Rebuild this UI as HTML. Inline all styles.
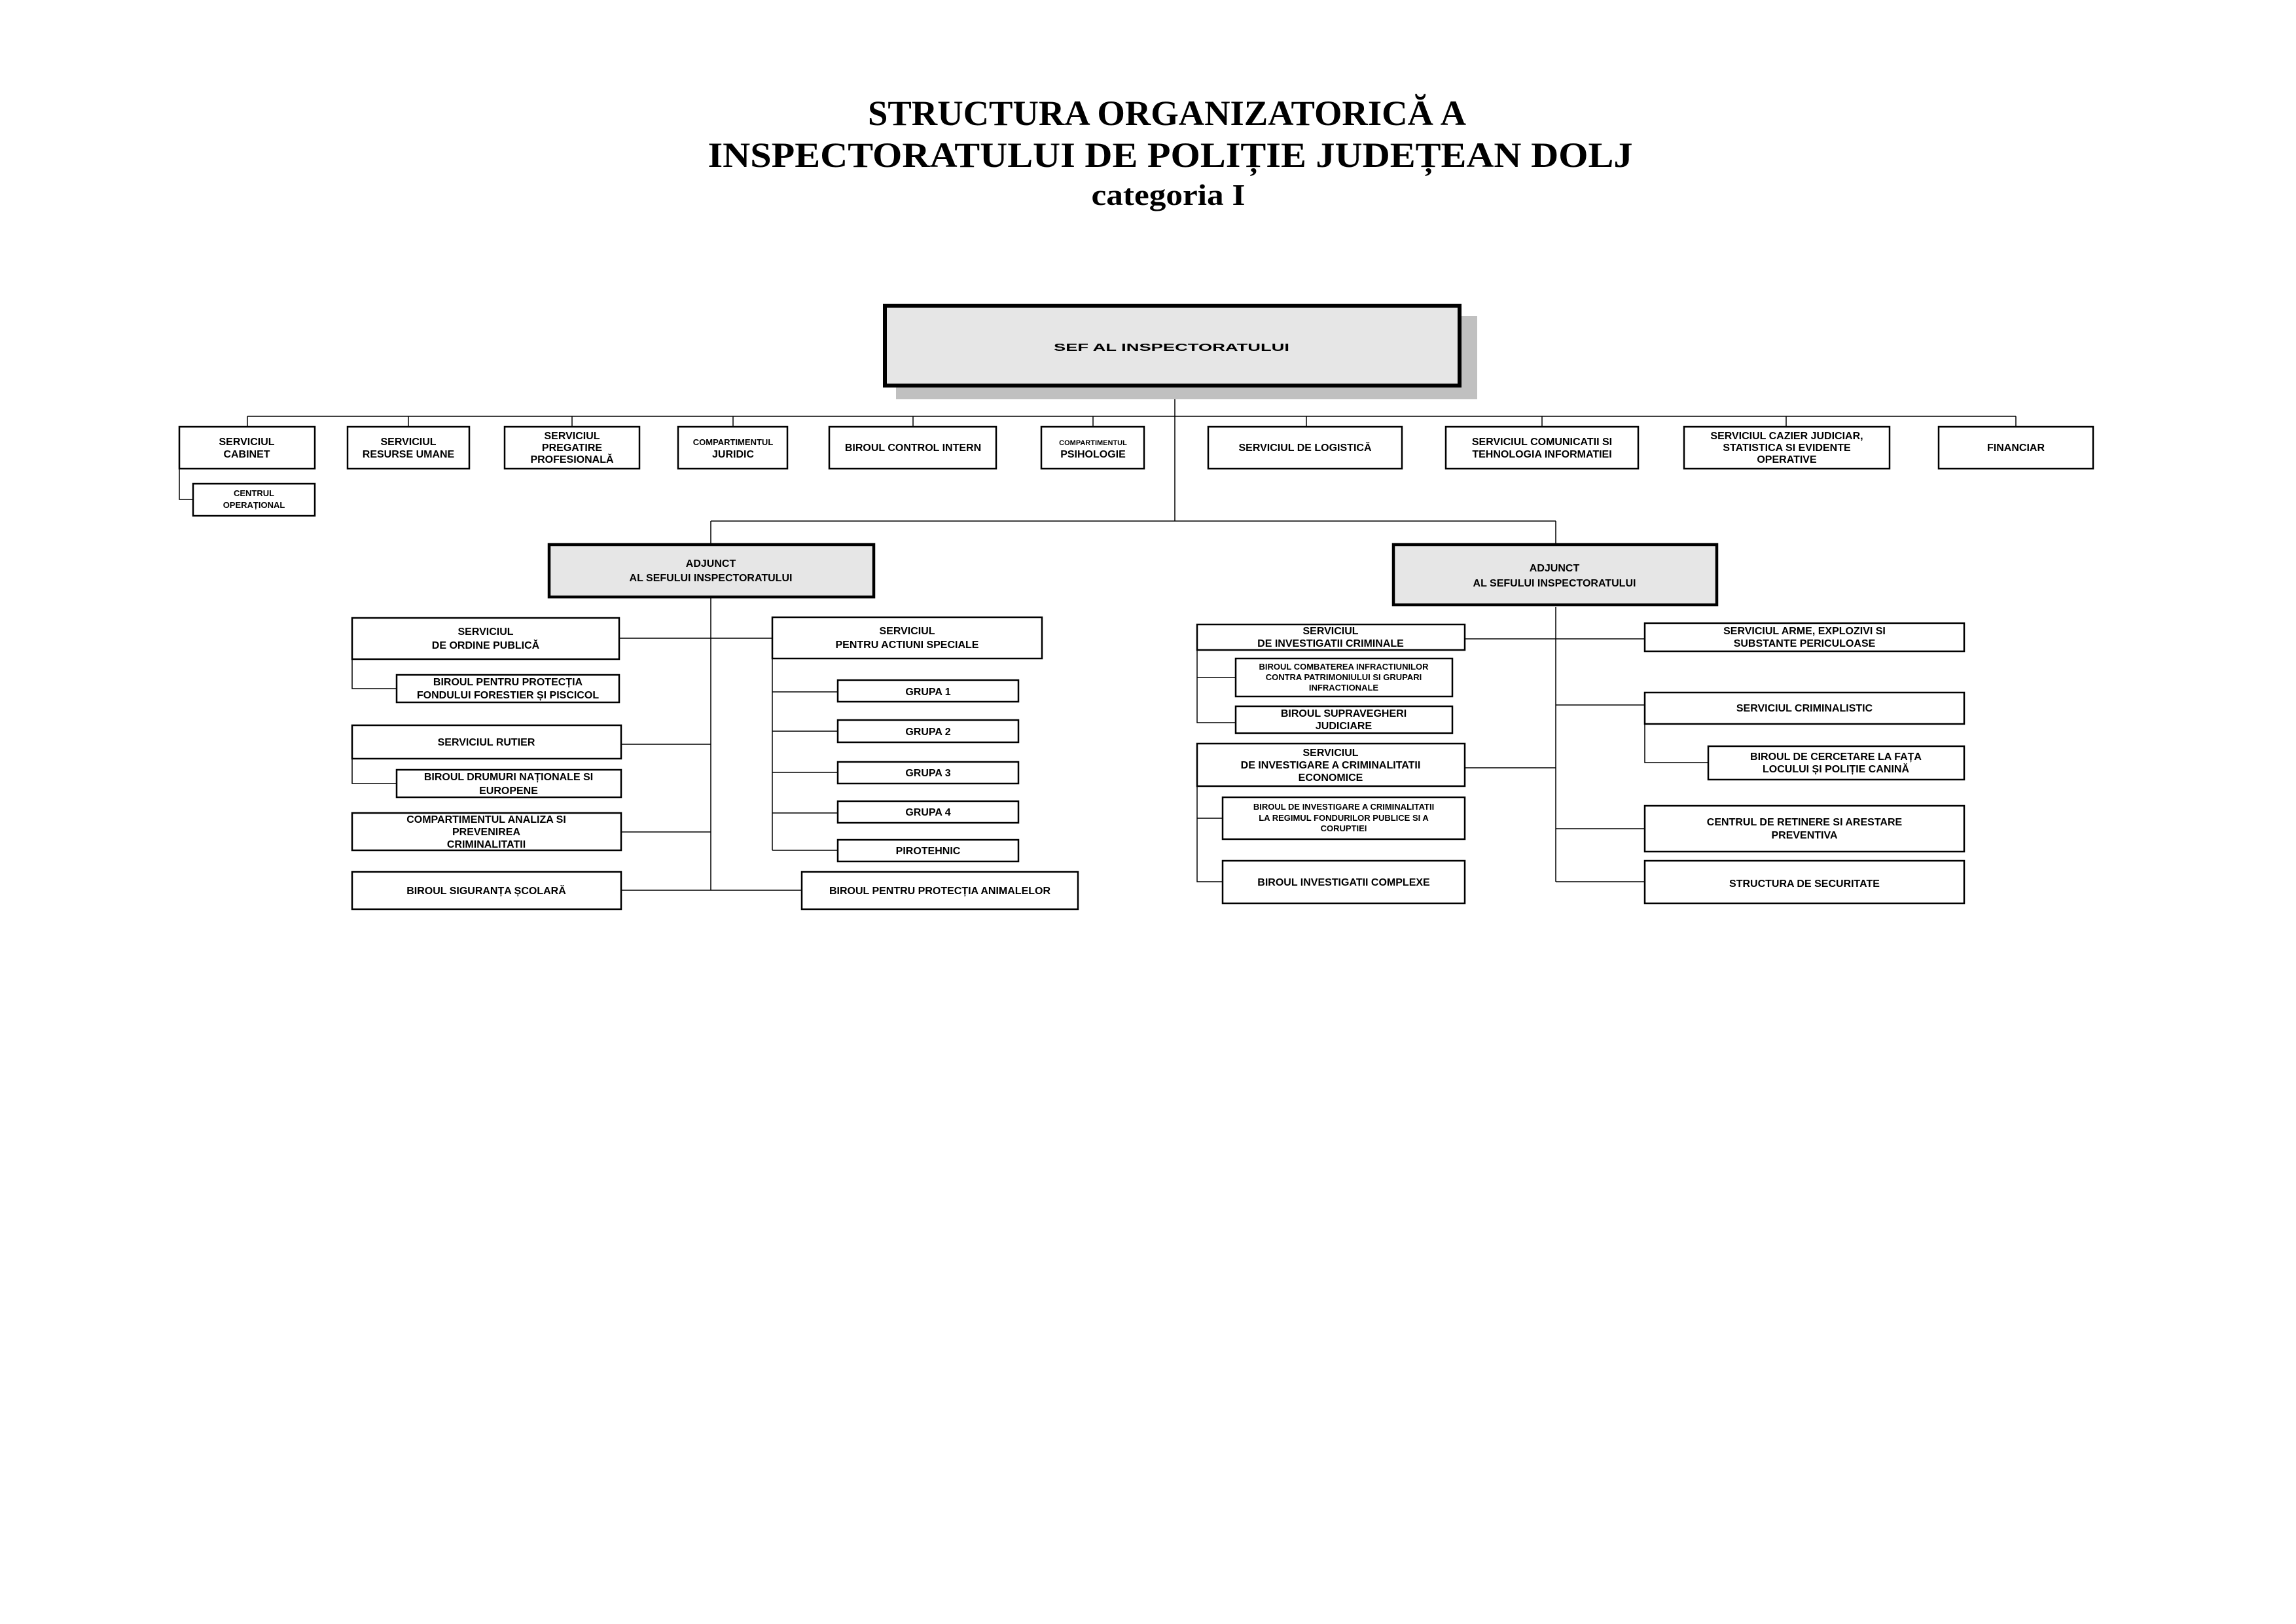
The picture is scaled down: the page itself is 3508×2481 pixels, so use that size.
<!DOCTYPE html>
<html><head><meta charset="utf-8">
<style>
html,body{margin:0;padding:0;background:#fff;}
svg{display:block;}
.t{font-family:"Liberation Sans",Arial,sans-serif;font-weight:bold;font-size:16px;text-anchor:middle;fill:#000;}
.s{font-size:13px;}
.xs{font-size:11px;}
.ti{font-family:"Liberation Serif","Times New Roman",serif;font-weight:bold;text-anchor:middle;fill:#000;}
.b{fill:#fff;stroke:#000;stroke-width:2.5;}
.g{fill:#e6e6e6;stroke:#000;stroke-width:4.5;}
.l{stroke:#000;stroke-width:1.5;fill:none;}
</style></head><body>
<svg width="3508" height="2481" viewBox="0 0 3508 2481" xmlns="http://www.w3.org/2000/svg">
<rect width="3508" height="2481" fill="#fff"/>
<text class="ti" x="1783" y="191" font-size="54" textLength="914" lengthAdjust="spacingAndGlyphs">STRUCTURA ORGANIZATORICĂ A</text>
<text class="ti" x="1788" y="255" font-size="54" textLength="1413" lengthAdjust="spacingAndGlyphs">INSPECTORATULUI DE POLIȚIE JUDEȚEAN DOLJ</text>
<text class="ti" x="1785" y="313" font-size="46" textLength="235" lengthAdjust="spacingAndGlyphs">categoria  I</text>

<path class="l" d="M1795 589V796 M378 636H3080 M378 636V651 M624 636V651 M874 636V651 M1120 636V651 M1395 636V651 M1670 636V651 M1996 636V651 M2356 636V651 M2729 636V651 M3080 636V651 M274 716V763H295 M1086 796H2377 M1086 796V830 M2377 796V830"/>
<path class="l" d="M1086 912V1360 M946 975H1180 M949 1137H1086 M949 1271H1086 M949 1360H1225 M538 1007V1052H606 M538 1159V1197H606 M1180 1006V1299 M1180 1057H1280 M1180 1117H1280 M1180 1180H1280 M1180 1242H1280 M1180 1299H1280"/>
<path class="l" d="M2377 927V1347 M2238 976H2513 M2238 1173H2377 M2377 1077H2513 M2377 1266H2513 M2377 1347H2513 M1829 993V1104H1888 M1829 1035H1888 M1829 1201V1347H1868 M1829 1250H1868 M2513 1106V1165H2610"/>

<rect x="1369" y="483" width="888" height="127" fill="#c0c0c0"/>
<rect x="1352" y="467" width="878" height="122" fill="#e6e6e6" stroke="#000" stroke-width="6"/>
<text class="t" x="1790" y="536" font-size="24" textLength="360" lengthAdjust="spacingAndGlyphs">SEF AL INSPECTORATULUI</text>

<rect class="b" x="274" y="652" width="207" height="64"/>
<text class="t" x="377" y="680">SERVICIUL</text><text class="t" x="377" y="699">CABINET</text>
<rect class="b" x="531" y="652" width="186" height="64"/>
<text class="t" x="624" y="680">SERVICIUL</text><text class="t" x="624" y="699">RESURSE UMANE</text>
<rect class="b" x="771" y="652" width="206" height="64"/>
<text class="t" x="874" y="671">SERVICIUL</text><text class="t" x="874" y="689">PREGATIRE</text><text class="t" x="874" y="707">PROFESIONALĂ</text>
<rect class="b" x="1036" y="652" width="167" height="64"/>
<text class="t s" x="1120" y="680">COMPARTIMENTUL</text><text class="t" x="1120" y="699">JURIDIC</text>
<rect class="b" x="1267" y="652" width="255" height="64"/>
<text class="t" x="1395" y="689">BIROUL CONTROL INTERN</text>
<rect class="b" x="1591" y="652" width="157" height="64"/>
<text class="t xs" x="1670" y="680">COMPARTIMENTUL</text><text class="t" x="1670" y="699">PSIHOLOGIE</text>
<rect class="b" x="1846" y="652" width="296" height="64"/>
<text class="t" x="1994" y="689">SERVICIUL DE LOGISTICĂ</text>
<rect class="b" x="2209" y="652" width="294" height="64"/>
<text class="t" x="2356" y="680">SERVICIUL COMUNICATII SI</text><text class="t" x="2356" y="699">TEHNOLOGIA INFORMATIEI</text>
<rect class="b" x="2573" y="652" width="314" height="64"/>
<text class="t" x="2730" y="671">SERVICIUL CAZIER JUDICIAR,</text><text class="t" x="2730" y="689">STATISTICA SI EVIDENTE</text><text class="t" x="2730" y="707">OPERATIVE</text>
<rect class="b" x="2962" y="652" width="236" height="64"/>
<text class="t" x="3080" y="689">FINANCIAR</text>
<rect class="b" x="295" y="739" width="186" height="49"/>
<text class="t s" x="388" y="758">CENTRUL</text><text class="t s" x="388" y="776">OPERAȚIONAL</text>

<rect class="g" x="839" y="832" width="496" height="80"/>
<text class="t" x="1086" y="866" font-size="18">ADJUNCT</text><text class="t" x="1086" y="888" font-size="18">AL SEFULUI INSPECTORATULUI</text>
<rect class="g" x="2129" y="832" width="494" height="92"/>
<text class="t" x="2375" y="873" font-size="18">ADJUNCT</text><text class="t" x="2375" y="896" font-size="18">AL SEFULUI INSPECTORATULUI</text>

<rect class="b" x="538" y="944" width="408" height="63"/>
<text class="t" x="742" y="970">SERVICIUL</text><text class="t" x="742" y="991">DE ORDINE PUBLICĂ</text>
<rect class="b" x="606" y="1031" width="340" height="42"/>
<text class="t" x="776" y="1047">BIROUL PENTRU PROTECȚIA</text><text class="t" x="776" y="1067">FONDULUI FORESTIER ȘI PISCICOL</text>
<rect class="b" x="538" y="1108" width="411" height="51"/>
<text class="t" x="743" y="1139">SERVICIUL RUTIER</text>
<rect class="b" x="606" y="1176" width="343" height="42"/>
<text class="t" x="777" y="1192">BIROUL DRUMURI NAȚIONALE SI</text><text class="t" x="777" y="1213">EUROPENE</text>
<rect class="b" x="538" y="1242" width="411" height="57"/>
<text class="t" x="743" y="1257">COMPARTIMENTUL ANALIZA SI</text><text class="t" x="743" y="1276">PREVENIREA</text><text class="t" x="743" y="1295">CRIMINALITATII</text>
<rect class="b" x="538" y="1332" width="411" height="57"/>
<text class="t" x="743" y="1366">BIROUL SIGURANȚA ȘCOLARĂ</text>
<rect class="b" x="1180" y="943" width="412" height="63"/>
<text class="t" x="1386" y="969">SERVICIUL</text><text class="t" x="1386" y="990">PENTRU ACTIUNI SPECIALE</text>
<rect class="b" x="1280" y="1039" width="276" height="33"/><text class="t" x="1418" y="1062">GRUPA 1</text>
<rect class="b" x="1280" y="1100" width="276" height="34"/><text class="t" x="1418" y="1123">GRUPA 2</text>
<rect class="b" x="1280" y="1164" width="276" height="33"/><text class="t" x="1418" y="1186">GRUPA 3</text>
<rect class="b" x="1280" y="1224" width="276" height="33"/><text class="t" x="1418" y="1246">GRUPA 4</text>
<rect class="b" x="1280" y="1283" width="276" height="33"/><text class="t" x="1418" y="1305">PIROTEHNIC</text>
<rect class="b" x="1225" y="1332" width="422" height="57"/>
<text class="t" x="1436" y="1366">BIROUL PENTRU PROTECȚIA ANIMALELOR</text>

<rect class="b" x="1829" y="954" width="409" height="39"/>
<text class="t" x="2033" y="969">SERVICIUL</text><text class="t" x="2033" y="988">DE INVESTIGATII CRIMINALE</text>
<rect class="b" x="1888" y="1006" width="331" height="58"/>
<text class="t s" x="2053" y="1023">BIROUL COMBATEREA INFRACTIUNILOR</text><text class="t s" x="2053" y="1039">CONTRA PATRIMONIULUI SI GRUPARI</text><text class="t s" x="2053" y="1055">INFRACTIONALE</text>
<rect class="b" x="1888" y="1079" width="331" height="41"/>
<text class="t" x="2053" y="1095">BIROUL SUPRAVEGHERI</text><text class="t" x="2053" y="1114">JUDICIARE</text>
<rect class="b" x="1829" y="1136" width="409" height="65"/>
<text class="t" x="2033" y="1155">SERVICIUL</text><text class="t" x="2033" y="1174">DE INVESTIGARE A CRIMINALITATII</text><text class="t" x="2033" y="1193">ECONOMICE</text>
<rect class="b" x="1868" y="1218" width="370" height="64"/>
<text class="t s" x="2053" y="1237">BIROUL DE INVESTIGARE A CRIMINALITATII</text><text class="t s" x="2053" y="1254">LA REGIMUL FONDURILOR PUBLICE SI A</text><text class="t s" x="2053" y="1270">CORUPTIEI</text>
<rect class="b" x="1868" y="1315" width="370" height="65"/>
<text class="t" x="2053" y="1353">BIROUL INVESTIGATII COMPLEXE</text>
<rect class="b" x="2513" y="952" width="488" height="43"/>
<text class="t" x="2757" y="969">SERVICIUL ARME, EXPLOZIVI SI</text><text class="t" x="2757" y="988">SUBSTANTE PERICULOASE</text>
<rect class="b" x="2513" y="1058" width="488" height="48"/>
<text class="t" x="2757" y="1087">SERVICIUL CRIMINALISTIC</text>
<rect class="b" x="2610" y="1140" width="391" height="51"/>
<text class="t" x="2805" y="1161">BIROUL DE CERCETARE LA FAȚA</text><text class="t" x="2805" y="1180">LOCULUI ȘI POLIȚIE CANINĂ</text>
<rect class="b" x="2513" y="1231" width="488" height="70"/>
<text class="t" x="2757" y="1261">CENTRUL DE RETINERE SI ARESTARE</text><text class="t" x="2757" y="1281">PREVENTIVA</text>
<rect class="b" x="2513" y="1315" width="488" height="65"/>
<text class="t" x="2757" y="1355" font-size="19">STRUCTURA DE SECURITATE</text>
</svg>
</body></html>
